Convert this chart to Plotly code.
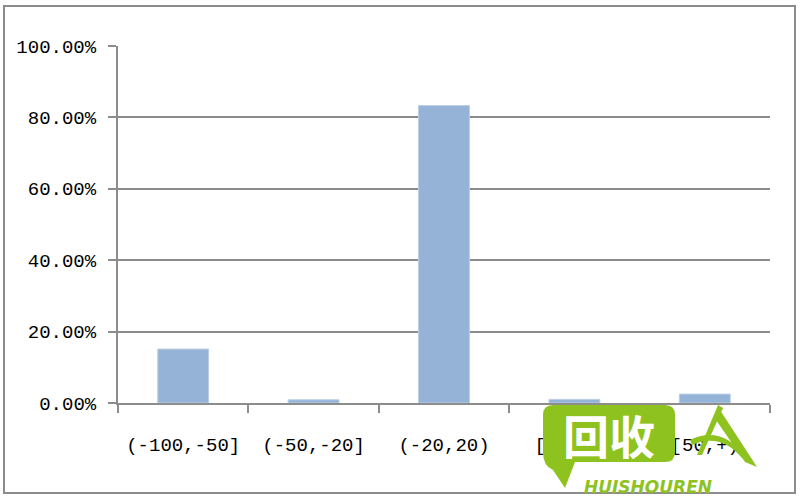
import plotly.graph_objects as go

categories = ["(-100,-50]", "(-50,-20]", "(-20,20)", "[20,50)", "[50,+)"]
values = [15.1, 0.9, 83.3, 1.0, 2.5]
tick_vals = [0, 20, 40, 60, 80, 100]
tick_text = ["0.00%", "20.00%", "40.00%", "60.00%", "80.00%", "100.00%"]

# plot area in screen pixels
L, R, T, B = 118, 770, 46, 403
W, H = 800, 500

def px(x):
    return (x - L) / (R - L)

def py(y):
    return (B - y) / (B - T)

fig = go.Figure()
fig.add_trace(go.Bar(
    x=categories, y=values,
    marker=dict(color="#95B3D7", line=dict(color="#B9CDE5", width=1)),
    width=0.39,
))

font = dict(family="Liberation Mono, DejaVu Sans Mono, monospace", size=19, color="#000000")

shapes = [
    # outer border
    dict(type="rect", xref="paper", yref="paper",
         x0=px(4), x1=px(795), y0=py(6), y1=py(493),
         line=dict(color="#8C8C8C", width=2), fillcolor="rgba(0,0,0,0)", layer="below"),
]

green = "#8DC21F"
# watermark logo (decorative)
bubble = (f"M {px(553)},{py(405)} L {px(665)},{py(405)} Q {px(675)},{py(405)} {px(675)},{py(415)} "
          f"L {px(675)},{py(452)} Q {px(675)},{py(462)} {px(665)},{py(462)} L {px(575)},{py(462)} "
          f"L {px(565)},{py(488)} L {px(553)},{py(470)} Q {px(543)},{py(466)} {px(543)},{py(452)} "
          f"L {px(543)},{py(415)} Q {px(543)},{py(405)} {px(553)},{py(405)} Z")
shapes.append(dict(type="path", xref="paper", yref="paper", path=bubble,
                   fillcolor=green, line=dict(width=0), layer="above"))
swoosh = (f"M {px(697)},{py(455)} L {px(718)},{py(405)} L {px(723)},{py(408)} L {px(702)},{py(455)} Z")
shapes.append(dict(type="path", xref="paper", yref="paper", path=swoosh,
                   fillcolor=green, line=dict(width=0), layer="above"))
swoosh2 = (f"M {px(720)},{py(410)} L {px(757)},{py(467)} L {px(745)},{py(462)} L {px(716)},{py(420)} Z")
shapes.append(dict(type="path", xref="paper", yref="paper", path=swoosh2,
                   fillcolor=green, line=dict(width=0), layer="above"))
swoosh3 = (f"M {px(690)},{py(440)} Q {px(720)},{py(425)} {px(745)},{py(455)} L {px(742)},{py(458)} Q {px(720)},{py(432)} {px(692)},{py(445)} Z")
shapes.append(dict(type="path", xref="paper", yref="paper", path=swoosh3,
                   fillcolor=green, line=dict(width=0), layer="above"))

annotations = [
    dict(text="<b>回收</b>", xref="paper", yref="paper", x=px(609), y=py(434),
         xanchor="center", yanchor="middle", showarrow=False,
         font=dict(family="Noto Sans CJK SC", size=46, color="#FFFFFF")),
    dict(text="<b><i>HUISHOUREN</i></b>", xref="paper", yref="paper", x=px(648), y=py(487),
         xanchor="center", yanchor="middle", showarrow=False,
         font=dict(family="DejaVu Sans, Liberation Sans", size=17, color=green)),
]

fig.update_layout(
    width=W, height=H,
    margin=dict(l=L, r=W - R, t=T, b=H - B),
    paper_bgcolor="#FFFFFF", plot_bgcolor="#FFFFFF",
    showlegend=False,
    bargap=0.61,
    font=font,
    shapes=shapes,
    annotations=annotations,
    xaxis=dict(
        type="category", tickfont=font,
        showline=True, linecolor="#8C8C8C", linewidth=2,
        ticks="outside", tickson="boundaries", ticklen=8, tickwidth=2, tickcolor="#8C8C8C",
        showgrid=False, ticklabelstandoff=23,
    ),
    yaxis=dict(
        range=[0, 100], tickvals=tick_vals, ticktext=tick_text, tickfont=font,
        showline=True, linecolor="#8C8C8C", linewidth=2,
        ticks="outside", ticklen=8, tickwidth=2, tickcolor="#8C8C8C",
        showgrid=True, gridcolor="#8C8C8C", gridwidth=2,
        zeroline=False, ticklabelstandoff=8,
    ),
)

fig.write_html(
    "out.html",
    config={"displayModeBar": False},
    post_script="document.body.style.margin='0';document.body.style.overflow='hidden';",
)
